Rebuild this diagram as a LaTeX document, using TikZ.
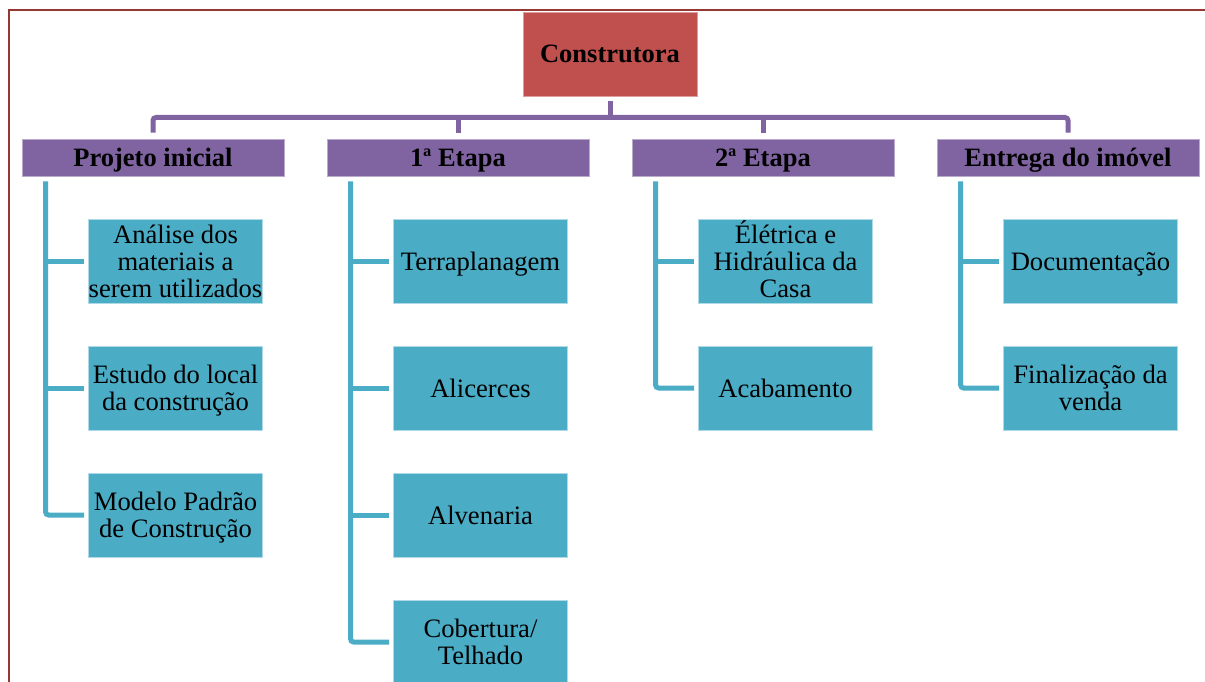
\documentclass[tikz,border=0pt]{standalone}
\usepackage{fontspec}
\setmainfont{Liberation Serif}
\definecolor{rootred}{HTML}{C0504D}
\definecolor{phasepurple}{HTML}{8064A2}
\definecolor{taskcyan}{HTML}{4BACC6}
\definecolor{framered}{HTML}{953735}
% one text line of fixed height and depth, so every block is centred on its baselines
\newcommand\boxline[1]{\rule[-0.5pt]{0pt}{19pt}\smash{#1}}
\begin{document}
\begin{tikzpicture}[x=1pt,y=-1pt,
  every node/.style={inner sep=0pt, align=center, text=black},
  rootbox/.style={fill=rootred, draw=rootred!55!white, line width=0.8pt,
    minimum width=174pt, minimum height=84pt,
    font=\fontsize{26.5}{27}\selectfont\bfseries},
  phasebox/.style={fill=phasepurple, draw=phasepurple!55!white, line width=0.8pt,
    minimum width=262pt, minimum height=37pt,
    font=\fontsize{26.5}{27}\selectfont\bfseries},
  taskbox/.style={fill=taskcyan, draw=taskcyan!45!white, line width=0.8pt,
    minimum width=174pt, minimum height=84pt,
    font=\fontsize{26.6}{27}\selectfont},
  busline/.style={draw=phasepurple, line width=5pt, rounded corners=3pt},
  branchline/.style={draw=taskcyan, line width=5pt, rounded corners=3pt, shorten >=4pt},
]
\useasboundingbox (0,0) rectangle (1205,682);

% page frame
\draw[framered, line width=2pt] (9,682) -- (9,10) -- (1205,10);

% root
\node[rootbox] (root) at (610,54) {\boxline{Construtora}};

% phases
\node[phasebox] (p1) at (153,157.5) {\boxline{Projeto inicial}};
\node[phasebox] (p2) at (458,157.5) {\boxline{1ª Etapa}};
\node[phasebox] (p3) at (763,157.5) {\boxline{2ª Etapa}};
\node[phasebox] (p4) at (1068,157.5) {\boxline{Entrega do imóvel}};

% tasks
\node[taskbox] (c11) at (175.5,261) {\boxline{Análise dos}\\\boxline{materiais a}\\\boxline{serem utilizados}};
\node[taskbox] (c12) at (175.5,388) {\boxline{Estudo do local}\\\boxline{da construção}};
\node[taskbox] (c13) at (175.5,515) {\boxline{Modelo Padrão}\\\boxline{de Construção}};

\node[taskbox] (c21) at (480.5,261) {\boxline{Terraplanagem}};
\node[taskbox] (c22) at (480.5,388) {\boxline{Alicerces}};
\node[taskbox] (c23) at (480.5,515) {\boxline{Alvenaria}};
\node[taskbox] (c24) at (480.5,642) {\boxline{Cobertura/}\\\boxline{Telhado}};

\node[taskbox] (c31) at (785.5,261) {\boxline{Élétrica e}\\\boxline{Hidráulica da}\\\boxline{Casa}};
\node[taskbox] (c32) at (785.5,388) {\boxline{Acabamento}};

\node[taskbox] (c41) at (1090.5,261) {\boxline{Documentação}};
\node[taskbox] (c42) at (1090.5,388) {\boxline{Finalização da}\\\boxline{venda}};

% root to phases
\coordinate (bus) at (0,117.5);
\draw[busline] ([yshift=-5pt]root.south) -- (root.south |- bus);
\draw[busline] ([yshift=6pt]p1.north) -- (p1.north |- bus) -- (p4.north |- bus) -- ([yshift=6pt]p4.north);
\draw[busline] ([yshift=6pt]p2.north) -- (p2.north |- bus);
\draw[busline] ([yshift=6pt]p3.north) -- (p3.north |- bus);

% phases to tasks
\coordinate (s1) at ([xshift=24pt,yshift=-5pt]p1.south west);
\coordinate (s2) at ([xshift=24pt,yshift=-5pt]p2.south west);
\coordinate (s3) at ([xshift=24pt,yshift=-5pt]p3.south west);
\coordinate (s4) at ([xshift=24pt,yshift=-5pt]p4.south west);

\draw[branchline] (s1) |- (c13.west);
\draw[branchline] (s1 |- c11.west) -- (c11.west);
\draw[branchline] (s1 |- c12.west) -- (c12.west);

\draw[branchline] (s2) |- (c24.west);
\draw[branchline] (s2 |- c21.west) -- (c21.west);
\draw[branchline] (s2 |- c22.west) -- (c22.west);
\draw[branchline] (s2 |- c23.west) -- (c23.west);

\draw[branchline] (s3) |- (c32.west);
\draw[branchline] (s3 |- c31.west) -- (c31.west);

\draw[branchline] (s4) |- (c42.west);
\draw[branchline] (s4 |- c41.west) -- (c41.west);
\end{tikzpicture}
\end{document}
